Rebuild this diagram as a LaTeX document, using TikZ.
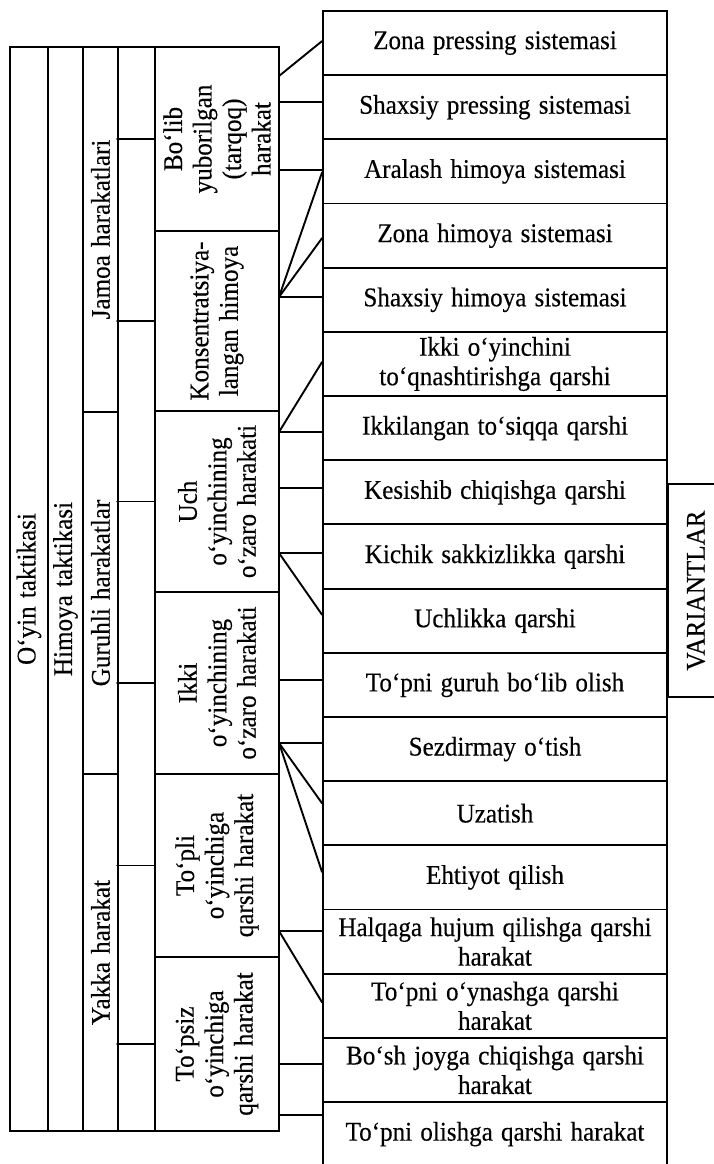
\documentclass[tikz,border=0pt]{standalone}
\usepackage{fontspec}
\setmainfont{Liberation Serif}[WordSpace=1.3, FakeStretch=0.93, FakeBold=0.35]
\begin{document}
\begin{tikzpicture}[x=1pt,y=-1pt,
  txt/.style={font=\fontsize{27pt}{29.5pt}\selectfont},
  box/.style={draw, line width=1.9pt, inner sep=0pt, align=center, txt},
  vbox/.style={box, rotate=90},
  vlabel/.style={inner sep=0pt, align=center, rotate=90, txt},
  link/.style={line width=1.9pt, line cap=round, line join=round},
  row/.style={box, minimum width=344pt, minimum height=64.18pt}]
\useasboundingbox (0,0) rectangle (714,1164);

% outer columns of the hierarchy
\node[vbox, minimum width=1084pt, minimum height=38pt] (c1) at (29,589) {O‘yin taktikasi};
\node[vbox, minimum width=1084pt, minimum height=35pt] (c2) at (65.5,589) {Himoya taktikasi};
\node[vbox, minimum width=365pt, minimum height=35pt] (j) at (100.5,229.5) {Jamoa harakatlari};
\node[vbox, minimum width=362pt, minimum height=35pt] (g) at (100.5,593) {Guruhli harakatlar};
\node[vbox, minimum width=357pt, minimum height=35pt] (y) at (100.5,952.5) {Yakka harakat};
\node[box, minimum width=37pt, minimum height=1084pt] (c4) at (136.5,589) {};

% kinds of action
\node[vbox, minimum width=184pt, minimum height=124pt] (b1) at (217,139) {Bo‘lib\\yuborilgan\\(tarqoq)\\harakat};
\node[vbox, minimum width=180pt, minimum height=124pt] (b2) at (217,321) {Konsentratsiya-\\langan himoya};
\node[vbox, minimum width=181pt, minimum height=124pt] (b3) at (217,501.5) {Uch\\o‘yinchining\\o‘zaro harakati};
\node[vbox, minimum width=182pt, minimum height=124pt] (b4) at (217,683) {Ikki\\o‘yinchining\\o‘zaro harakati};
\node[vbox, minimum width=183pt, minimum height=124pt] (b5) at (217,865.5) {To‘pli\\o‘yinchiga\\qarshi harakat};
\node[vbox, minimum width=174pt, minimum height=124pt] (b6) at (217,1044) {To‘psiz\\o‘yinchiga\\qarshi harakat};

% ticks joining the empty column to each kind
\foreach \b in {b1,b2,b3,b4,b5,b6}
  \draw[link] (\b.north -| c4.west) -- (\b.north);

% variants
\foreach \t [count=\i] in {
  Zona pressing sistemasi,
  Shaxsiy pressing sistemasi,
  Aralash himoya sistemasi,
  Zona himoya sistemasi,
  Shaxsiy himoya sistemasi,
  Ikki o‘yinchini\\to‘qnashtirishga qarshi,
  Ikkilangan to‘siqqa qarshi,
  Kesishib chiqishga qarshi,
  Kichik sakkizlikka qarshi,
  Uchlikka qarshi,
  To‘pni guruh bo‘lib olish,
  Sezdirmay o‘tish,
  Uzatish,
  Ehtiyot qilish,
  Halqaga hujum qilishga qarshi\\harakat,
  To‘pni o‘ynashga qarshi\\harakat,
  Bo‘sh joyga chiqishga qarshi\\harakat,
  To‘pni olishga qarshi harakat}
  \node[row] (r\i) at (495,{11+64.18*(\i-0.5)}) {\t};

% side caption
\node[vlabel] (var) at (696,590.5) {VARIANTLAR};
\draw[link, line cap=butt] (714,484) -- (668,484) -- (668,697) -- (714,697);

% branching points on the right side of the kinds
\coordinate (u1) at (279,76);
\coordinate (u2) at (279,102);
\coordinate (u3) at (279,170);
\coordinate (u4) at (279,297);
\coordinate (u5) at (279,432);
\coordinate (u6) at (279,488);
\coordinate (u7) at (279,553);
\coordinate (u8) at (279,680);
\coordinate (u9) at (279,743);
\coordinate (u10) at (279,931);
\coordinate (u11) at (279,1064);
\coordinate (u12) at (279,1115);

% straight links
\foreach \u/\r in {u2/r2,u3/r3,u4/r5,u5/r7,u6/r8,u7/r9,u8/r11,u9/r12,u10/r15,u11/r17,u12/r18}
  \draw[link] (\u) -- (\u -| \r.west);

% slanted links
\draw[link] (u1) -- ([yshift=2pt]r1.west);
\draw[link] (u4) -- ([yshift=-1pt]r3.west);
\draw[link] (u4) -- ([yshift=-2.5pt]r4.west);
\draw[link] (u5) -- ([yshift=2pt]r6.west);
\draw[link] (u7) -- ([yshift=6pt]r10.west);
\draw[link] (u9) -- ([yshift=10pt]r13.west);
\draw[link] (u9) -- ([yshift=5.5pt]r14.west);
\draw[link] (u10) -- ([yshift=3.5pt]r16.west);
\end{tikzpicture}
\end{document}
